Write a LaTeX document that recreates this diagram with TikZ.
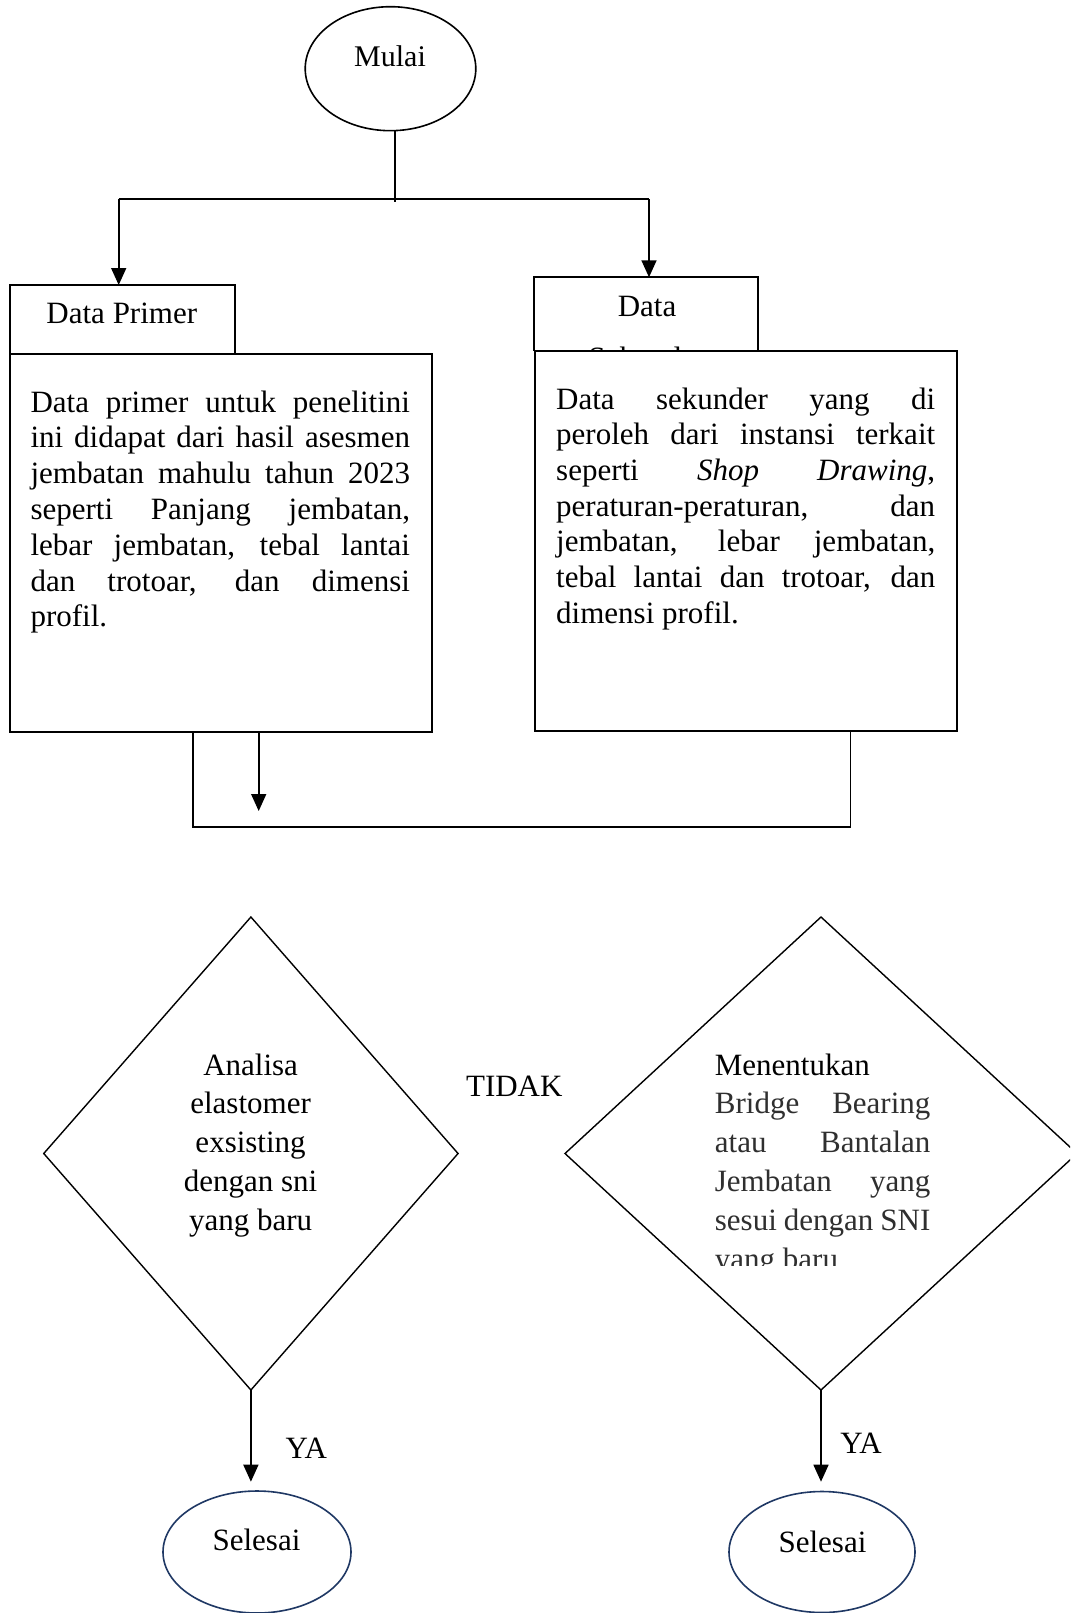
\documentclass[tikz,border=0pt]{standalone}
\usepackage{fontspec}
\setmainfont{Liberation Serif}
\usetikzlibrary{shapes.geometric,arrows.meta}
\definecolor{navy}{HTML}{1F3864}
\definecolor{dgray}{HTML}{2F2F2F}
\newcommand{\jline}[1]{\makebox[\linewidth][s]{#1}\par}
\newcommand{\lline}[1]{\makebox[\linewidth][l]{#1}\par}
\begin{document}
\begin{tikzpicture}[x=1pt,y=-1pt,
  box/.style={draw, line width=1.8pt, rectangle, inner sep=0pt, outer sep=0pt},
  dec/.style={draw, line width=1.4pt, diamond, inner sep=0pt, outer sep=0pt},
  term/.style={draw, line width=1.6pt, ellipse, inner sep=0pt, outer sep=0pt},
  endterm/.style={term, draw=navy},
  lbl/.style={inner sep=0pt, anchor=base, font=\fontsize{31}{38}\selectfont},
  para/.style={inner sep=0pt, anchor=base west},
  conn/.style={line width=1.6pt},
  thinconn/.style={line width=1.2pt},
  arr/.style={conn, -{Triangle[length=17pt,width=15pt]}},
]
\clip (0,0) rectangle (1070,1613);
\fill[white] (0,0) rectangle (1070,1613);

% start
\node[term, minimum width=170.6pt, minimum height=124pt] (mulai) at (390.5,68.7) {};
\node[lbl, font=\fontsize{30}{36}\selectfont] (mulaiT) at (390,66.7) {Mulai};

% split
\coordinate (split) at (395,199);
\coordinate (splitEnd) at (395,202);
\coordinate (splitL) at (118.7,199);
\coordinate (splitR) at (649,199);

% data boxes
\node[box, minimum width=225pt, minimum height=69pt] (hdrP) at (122.1,319.5) {};
\node[box, minimum width=422.4pt, minimum height=377.7pt] (boxP) at (220.8,542.85) {};
\node[box, minimum width=223.4pt, minimum height=73.2pt] (hdrS) at (646,313.9) {};
\node[box, minimum width=422pt, minimum height=380pt] (boxS) at (745.7,541) {};

\node[lbl] (hdrPT) at (121.8,323.3) {Data Primer};
\node[lbl] (hdrST) at (647,316.7) {Data};
\begin{scope}
  \clip (hdrS.north west) rectangle (hdrS.south east);
  \node[lbl] (hdrST2) at (647,368) {Sekunder};
\end{scope}

\node[para] (boxPT) at (30.3,412) {\parbox[t]{379.5pt}{\fontsize{31}{35.8}\selectfont
  \jline{Data primer untuk penelitini}
  \jline{ini didapat dari hasil asesmen}
  \jline{jembatan mahulu tahun 2023}
  \jline{seperti Panjang jembatan,}
  \jline{lebar jembatan, tebal lantai}
  \jline{dan trotoar, dan dimensi}
  \lline{profil.}}};

\node[para] (boxST) at (556,409) {\parbox[t]{379pt}{\fontsize{31}{35.7}\selectfont
  \jline{Data sekunder yang di}
  \jline{peroleh dari instansi terkait}
  \jline{seperti \textit{Shop} \textit{Drawing},}
  \jline{peraturan-peraturan, dan}
  \jline{jembatan, lebar jembatan,}
  \jline{tebal lantai dan trotoar, dan}
  \lline{dimensi profil.}}};

% connectors top
\draw[conn] (mulai.south -| split) -- (splitEnd);
\draw[conn] (splitL) -- (splitR);
\draw[arr] (splitL) -- (splitL |- hdrP.north);
\draw[arr] (splitR) -- (splitR |- hdrS.north);

% merge below boxes
\coordinate (mL) at (193,827);
\coordinate (mR) at (850.5,827);
\coordinate (aEnd) at (258.7,811);
\draw[thinconn] (boxP.south -| mL) -- (mL) -- (mR) -- (boxS.south -| mR);
\draw[arr] (boxP.south -| aEnd) -- (aEnd);

% decisions
\node[dec, minimum width=414.3pt, minimum height=473pt] (dL) at (250.9,1153.5) {};
\node[dec, minimum width=512pt, minimum height=473pt] (dR) at (821,1153.5) {};

\node[para, anchor=base] (dLT) at (250.6,1075) {\parbox[t]{220pt}{\centering\fontsize{31}{38.8}\selectfont
  Analisa\par elastomer\par exsisting\par dengan sni\par yang baru\par}};

\begin{scope}
  \clip (600,1000) rectangle (1000,1265);
  \node[para] (dRT) at (714.7,1075) {\parbox[t]{215.5pt}{\fontsize{31}{38.8}\selectfont
    \lline{Menentukan}
    \color{dgray}
    \jline{Bridge Bearing}
    \jline{atau Bantalan}
    \jline{Jembatan yang}
    \jline{sesui dengan SNI}
    \lline{yang baru}}};
\end{scope}

\node[lbl] (tidak) at (514.3,1096) {TIDAK};

% outcomes
\coordinate (tipL) at (250.9,1481.7);
\coordinate (tipR) at (821,1481.7);
\draw[arr] (dL.south) -- (tipL);
\draw[arr] (dR.south) -- (tipR);
\node[lbl] (yaL) at (306.3,1458.3) {YA};
\node[lbl] (yaR) at (861,1453) {YA};

\node[endterm, minimum width=188pt, minimum height=122pt] (endL) at (257,1552) {};
\node[endterm, minimum width=186pt, minimum height=121pt] (endR) at (822,1552) {};
\node[lbl] (endLT) at (256.5,1550.7) {Selesai};
\node[lbl] (endRT) at (822.5,1552.7) {Selesai};
\end{tikzpicture}
\end{document}
